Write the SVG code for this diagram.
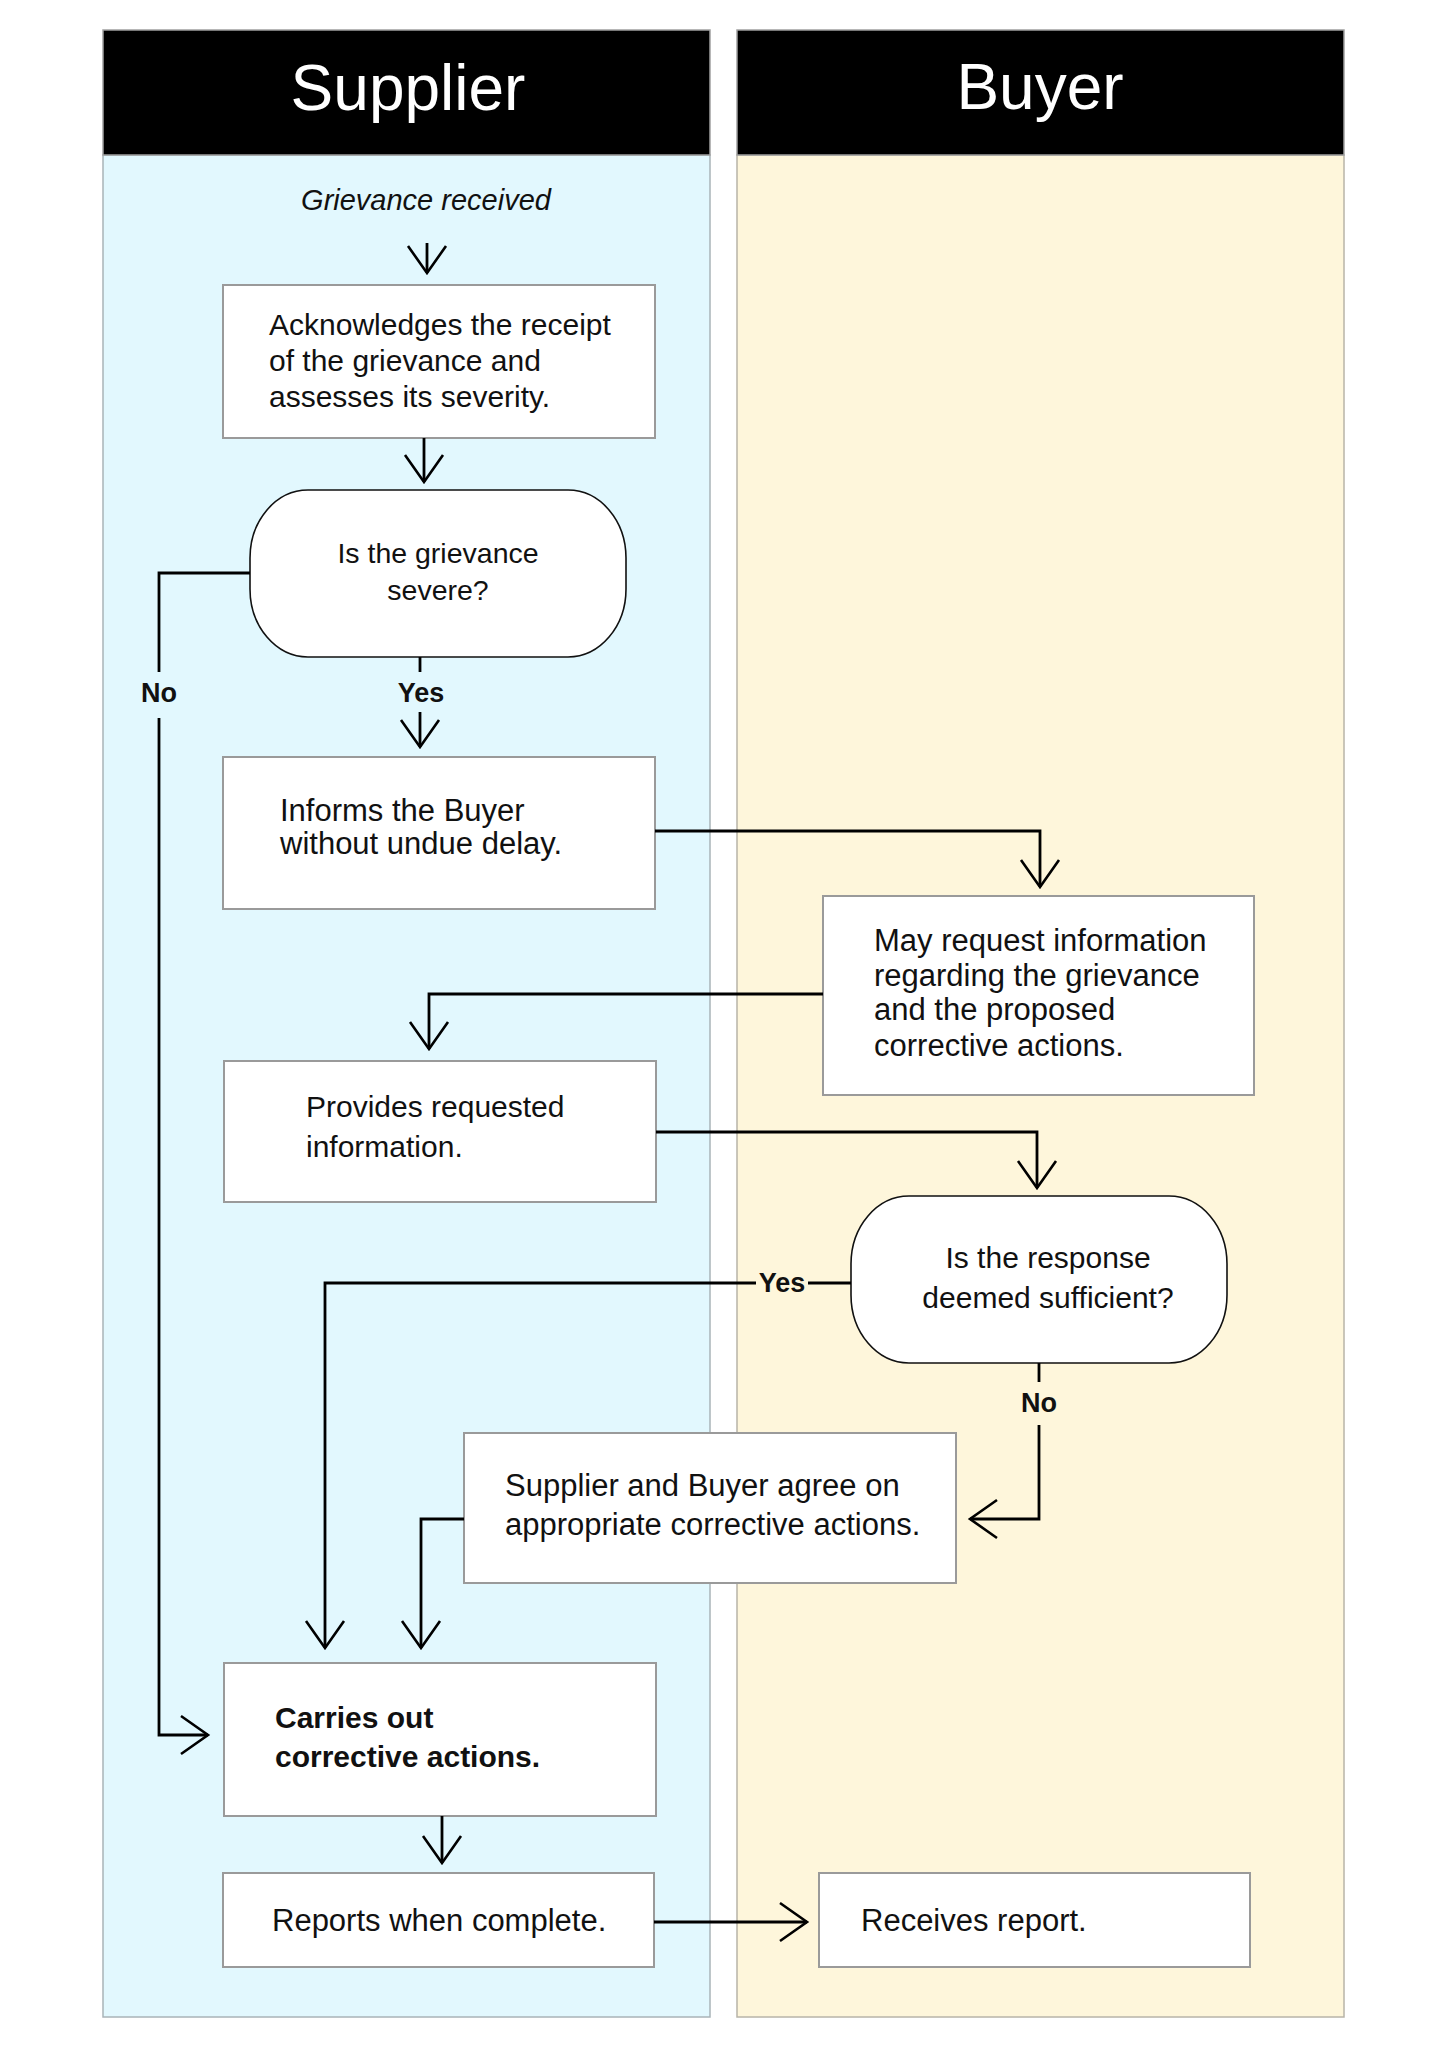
<svg xmlns="http://www.w3.org/2000/svg" width="1448" height="2048" viewBox="0 0 1448 2048">
<defs>
<style>
.lane-s{fill:#E2F8FE;stroke:#A9B4B8;stroke-width:1.5}
.lane-b{fill:#FEF6DB;stroke:#B8B4A8;stroke-width:1.5}
.hdr{fill:#000;stroke:#A0A0A0;stroke-width:1.5}
.hdr-t{font-family:"Liberation Sans",Arial,sans-serif;font-size:64px;fill:#fff;text-anchor:middle}
.box{fill:#fff;stroke:#9A9A9A;stroke-width:2}
.dec{fill:#fff;stroke:#111;stroke-width:1.6}
.t{font-family:"Liberation Sans",Arial,sans-serif;font-size:31px;fill:#111}
.t30{font-size:30px}
.tb{font-weight:bold}
.ti{font-style:italic;font-size:29px;text-anchor:middle}
.tc{text-anchor:middle}
.lbl{font-family:"Liberation Sans",Arial,sans-serif;font-size:27px;font-weight:bold;fill:#111;text-anchor:middle}
.c{fill:none;stroke:#000;stroke-width:2.8}
.ca{fill:none;stroke:#000;stroke-width:2.8;marker-end:url(#arr)}
</style>
<marker id="arr" markerUnits="userSpaceOnUse" viewBox="-32 -24 40 48" markerWidth="40" markerHeight="48" refX="0" refY="0" orient="auto">
<path d="M-27,-19 L0,0 L-27,19" fill="none" stroke="#000" stroke-width="2.6" stroke-linejoin="miter"/>
</marker>
</defs>

<g id="lanes">
<g id="lane-supplier">
<rect class="lane-s" x="103" y="155" width="607" height="1862"/>
<rect class="hdr" x="103" y="30" width="607" height="125"/>
<text class="hdr-t" x="408" y="110">Supplier</text>
</g>
<g id="lane-buyer">
<rect class="lane-b" x="737" y="155" width="607" height="1862"/>
<rect class="hdr" x="737" y="30" width="607" height="125"/>
<text class="hdr-t" x="1040" y="109">Buyer</text>
</g>
</g>

<g id="start">
<text class="t ti" x="426" y="210">Grievance received</text>
</g>

<g id="n1">
<rect class="box" x="223" y="285" width="432" height="153"/>
<text class="t t30" x="269" y="335">Acknowledges the receipt</text>
<text class="t t30" x="269" y="371">of the grievance and</text>
<text class="t t30" x="269" y="407">assesses its severity.</text>
</g>

<g id="d1">
<rect class="dec" x="250" y="490" width="376" height="167" rx="58" ry="68"/>
<text class="t tc" style="font-size:28.5px" x="438" y="563">Is the grievance</text>
<text class="t tc" style="font-size:28.5px" x="438" y="600">severe?</text>
</g>

<g id="n2">
<rect class="box" x="223" y="757" width="432" height="152"/>
<text class="t" x="280" y="821">Informs the Buyer</text>
<text class="t" x="280" y="854">without undue delay.</text>
</g>

<g id="n3">
<rect class="box" x="823" y="896" width="431" height="199"/>
<text class="t" x="874" y="951">May request information</text>
<text class="t" x="874" y="986">regarding the grievance</text>
<text class="t" x="874" y="1020">and the proposed</text>
<text class="t" x="874" y="1056">corrective actions.</text>
</g>

<g id="n4">
<rect class="box" x="224" y="1061" width="432" height="141"/>
<text class="t t30" x="306" y="1117">Provides requested</text>
<text class="t t30" x="306" y="1157">information.</text>
</g>

<g id="d2">
<rect class="dec" x="851" y="1196" width="376" height="167" rx="58" ry="68"/>
<text class="t tc t30" x="1048" y="1268">Is the response</text>
<text class="t tc t30" x="1048" y="1308">deemed sufficient?</text>
</g>

<g id="n5">
<rect class="box" x="464" y="1433" width="492" height="150"/>
<text class="t" x="505" y="1496">Supplier and Buyer agree on</text>
<text class="t" x="505" y="1535">appropriate corrective actions.</text>
</g>

<g id="n6">
<rect class="box" x="224" y="1663" width="432" height="153"/>
<text class="t t30 tb" x="275" y="1728">Carries out</text>
<text class="t t30 tb" x="275" y="1767">corrective actions.</text>
</g>

<g id="n7">
<rect class="box" x="223" y="1873" width="431" height="94"/>
<text class="t" x="272" y="1931">Reports when complete.</text>
</g>

<g id="n8">
<rect class="box" x="819" y="1873" width="431" height="94"/>
<text class="t" x="861" y="1931">Receives report.</text>
</g>

<g id="connectors">
<path class="ca" d="M427,243 V273"/>
<path class="ca" d="M424,438 V482"/>
<path class="c" d="M250,573 H159 V672"/>
<path class="ca" d="M159,718 V1735 H208"/>
<path class="c" d="M420,657 V672"/>
<path class="ca" d="M420,712 V747"/>
<path class="ca" d="M655,831 H1040 V887"/>
<path class="ca" d="M823,994 H429 V1049"/>
<path class="ca" d="M656,1132 H1037 V1188"/>
<path class="c" d="M851,1283 H808"/>
<path class="ca" d="M756,1283 H325 V1648"/>
<path class="c" d="M1039,1363 V1382"/>
<path class="ca" d="M1039,1425 V1519 H970"/>
<path class="ca" d="M464,1519 H421 V1648"/>
<path class="ca" d="M442,1816 V1863"/>
<path class="ca" d="M654,1922 H807"/>
</g>

<g id="labels">
<text class="lbl" x="159" y="702">No</text>
<text class="lbl" x="421" y="702">Yes</text>
<text class="lbl" x="782" y="1292">Yes</text>
<text class="lbl" x="1039" y="1412">No</text>
</g>
</svg>
